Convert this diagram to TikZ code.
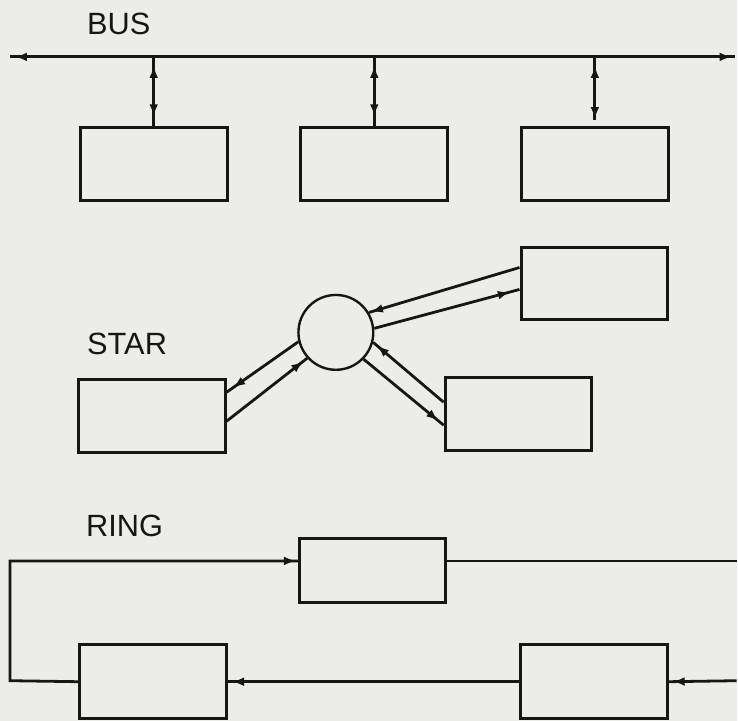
\documentclass[tikz,border=0pt]{standalone}
\usepackage{fontspec}
\setmainfont{Liberation Sans}
\usetikzlibrary{arrows.meta}
\usetikzlibrary{decorations.markings}

\definecolor{paper}{RGB}{236,237,233}
\definecolor{ink}{RGB}{22,22,22}

\tikzset{
  >={Latex[length=6pt,width=4.4pt]},
  unit/.style={draw=ink, line width=1.5pt, minimum width=73.5pt, minimum height=36.5pt, inner sep=0pt},
  hub/.style={draw=ink, circle, line width=1.2pt, minimum size=37.5pt, inner sep=0pt},
  heading/.style={anchor=base west, inner sep=0pt, text=ink, font=\fontsize{15.4}{18}\selectfont},
  wire/.style={draw=ink, line width=1.4pt, line join=miter},
  tip end/.style={postaction={decorate, decoration={markings, mark=at position -#1 with {\arrow[ink]{>}}}}},
  tip end/.default=0.6pt,
  tip start/.style={postaction={decorate, decoration={markings, mark=at position #1 with {\arrowreversed[ink]{>}}}}},
  tip start/.default=0.6pt,
}

\begin{document}
\begin{tikzpicture}[x=0.5pt, y=-0.5pt]
\fill[paper] (0,0) rectangle (738,722);

% bus
\node[heading] (bustitle) at (87,35) {BUS};
\coordinate (busl) at (10,57);
\coordinate (busr) at (736,57);
\draw[wire, tip start=2.5pt, tip end=1.5pt] (busl) -- (busr);
\foreach \i/\x in {1/154, 2/375, 3/596}
  \node[unit] (bus\i) at (\x,164.5) {};
\foreach \i in {1,2}
  \draw[wire, tip start=4.5pt, tip end=5pt] (busl -| bus\i) -- (bus\i.north);
\draw[wire, tip start=4.5pt, tip end] (busl -| bus3) -- ([yshift=3pt]bus3.north);

% star
\node[heading] (startitle) at (87,355) {STAR};
\node[hub] (hub) at (336.5,333) {};
\node[unit] (star1) at (595.5,284) {};
\node[unit] (star2) at (152,416.5) {};
\node[unit] (star3) at (519.5,415) {};
\draw[wire, tip end=1pt] ([yshift=8pt]star1.west) -- (hub.31);
\draw[wire, tip end=5pt] (hub.6) -- ([yshift=-3pt]star1.west);
\draw[wire, tip end=4pt] (hub.194) -- ([yshift=11.75pt]star2.east);
\draw[wire, tip end=2.5pt] ([yshift=-2.75pt]star2.east) -- (hub.222);
\draw[wire, tip end=2.5pt] ([yshift=6pt]star3.west) -- (hub.345);
\draw[wire, tip end=3.5pt] (hub.316) -- ([yshift=-5.5pt]star3.west);

% ring
\node[heading] (ringtitle) at (86,538) {RING};
\node[unit, minimum width=73pt, minimum height=32pt] (ring1) at (373,572) {};
\node[unit, minimum height=37pt] (ring2) at (595,683) {};
\node[unit, minimum height=37pt] (ring3) at (153.5,683) {};
\coordinate (ringtl) at (10,562);
\coordinate (ringtr) at (738,562);
\coordinate (ringbr) at (738,682);
\coordinate (ringbl) at (10,682);
\draw[wire, tip end=1pt] (ring3.west) -- (ringbl) -- (ringtl) -- (ringtl -| ring1.west);
\draw[wire] (ringtl -| ring1.east) -- (ringtr);
\draw[wire, tip end=2pt] (ringbr) -- (ring2.east);
\draw[wire, tip end=2pt] (ring2.west) -- (ring3.east);
\end{tikzpicture}
\end{document}
